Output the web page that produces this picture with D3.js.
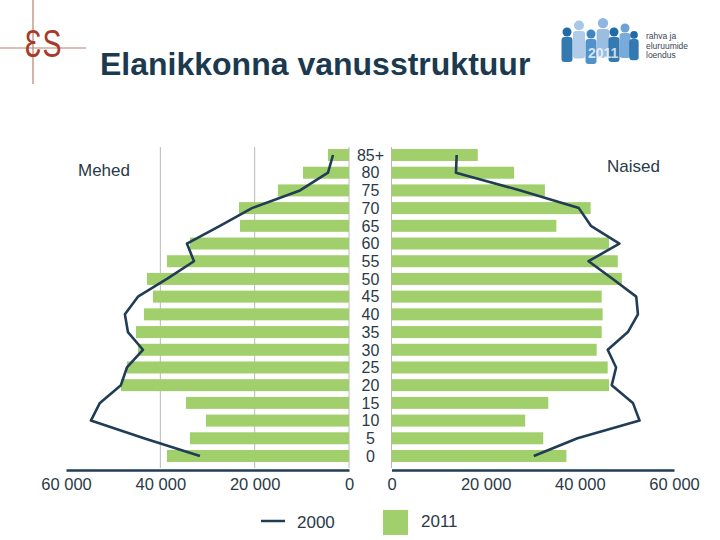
<!DOCTYPE html>
<html><head><meta charset="utf-8">
<script src="https://cdn.jsdelivr.net/npm/d3@7"></script>
<style>html,body{margin:0;padding:0;background:#fff;}svg{display:block;font-family:"Liberation Sans",Arial,sans-serif;}</style>
</head><body>
<svg id="c" width="720" height="540"></svg>
<script>
const ages = ["85+","80","75","70","65","60","55","50","45","40","35","30","25","20","15","10","5","0"];
const men2011 = [4450,9760,15060,23330,23120,33720,38600,42840,41570,43480,45170,44750,47080,48360,34570,30330,33720,38600];
const women2011 = [18330,26030,32580,42290,35010,46200,48060,48920,44640,44850,44640,43570,45920,46200,33300,28390,32230,37150];
const men2000 = [3390,4450,10390,20570,27360,34360,32870,38600,44750,47510,46870,43690,47080,48360,52810,54720,43480,31600];
const women2000 = [13840,13690,27380,39790,42350,48400,41860,47000,51980,52340,50200,45920,47700,46780,51270,52690,39500,30220];
const xTicks = [0,20000,40000,60000];
const title = "Elanikkonna vanusstruktuur";
const labelMen = "Mehed", labelWomen = "Naised";
const legendItems = ["2000","2011"];
const logoLines = ["rahva ja","eluruumide","loendus"];

const svg = d3.select("#c");
const green = "#a1cf6c", navy = "#213d55", txt = "#2a3a48";

const xL = d3.scaleLinear().domain([0,60000]).range([349,66]);
const xR = d3.scaleLinear().domain([0,60000]).range([391.5,674]);
const y = d3.scalePoint().domain(ages).range([155,456]);
const barH = 12;
const fmt = v => d3.format(",")(v).replace(/,/g," ");

// logo top-left
const lg = svg.append("g");
lg.append("line").attr("x1",33).attr("x2",33).attr("y1",0).attr("y2",84).attr("stroke","#b9806e").attr("stroke-width",1.2);
lg.append("line").attr("x1",0).attr("x2",86).attr("y1",48).attr("y2",48).attr("stroke","#b9806e").attr("stroke-width",1.2);
lg.append("text").attr("transform","translate(33,57) scale(-0.78,1)").attr("text-anchor","middle")
  .attr("font-size",38).attr("fill","#a83a28").text("3");
lg.append("text").attr("transform","translate(52,57) scale(0.75,1)").attr("text-anchor","middle")
  .attr("font-size",38).attr("fill","#a83a28").text("S");

// title
svg.append("text").attr("x",100).attr("y",75).attr("font-size",32).attr("font-weight","bold")
  .attr("fill","#1b3a4f").text(title);

// logo top-right (people figures)
const figs = [
  {x:567,y:38,c:"#1f6aa8",s:1.0},{x:579,y:32,c:"#a8c6e6",s:1.1},{x:591,y:40,c:"#3f86c4",s:1.0},
  {x:603,y:30,c:"#8fb6df",s:1.15},{x:614,y:38,c:"#1f6aa8",s:1.0},{x:625,y:34,c:"#6aa2d6",s:1.0},{x:634,y:40,c:"#1f6aa8",s:0.85}
];
const fg = svg.append("g");
figs.forEach(f=>{
  fg.append("circle").attr("cx",f.x).attr("cy",f.y-6*f.s).attr("r",4.5*f.s).attr("fill",f.c);
  fg.append("rect").attr("x",f.x-5.5*f.s).attr("y",f.y-1).attr("width",11*f.s).attr("height",25*f.s).attr("rx",3).attr("fill",f.c).attr("opacity",0.9);
});
fg.append("text").attr("x",588).attr("y",58).attr("font-size",14).attr("font-weight","bold").attr("fill","#fff").attr("opacity",0.75).text("2011");
const lt = svg.append("g").attr("font-size",8.5).attr("fill","#3a4656");
logoLines.forEach((t,i)=>lt.append("text").attr("x",646).attr("y",39+i*9.5).text(t));

// gridlines
const grid = svg.append("g").attr("stroke","#b8b8b8").attr("stroke-width",1);
[20000,40000,0].forEach(v=>grid.append("line").attr("x1",xL(v)).attr("x2",xL(v)).attr("y1",147).attr("y2",468));
grid.append("line").attr("x1",xR(0)).attr("x2",xR(0)).attr("y1",147).attr("y2",468);

// bars
svg.append("g").selectAll("rect").data(ages).join("rect")
  .attr("x",(d,i)=>xL(men2011[i])).attr("width",(d,i)=>xL(0)-xL(men2011[i]))
  .attr("y",d=>y(d)-barH/2).attr("height",barH).attr("fill",green);
svg.append("g").selectAll("rect").data(ages).join("rect")
  .attr("x",xR(0)).attr("width",(d,i)=>xR(women2011[i])-xR(0))
  .attr("y",d=>y(d)-barH/2).attr("height",barH).attr("fill",green);

// lines
const lineL = d3.line().x((d,i)=>xL(men2000[i])).y(d=>y(d));
const lineR = d3.line().x((d,i)=>xR(women2000[i])).y(d=>y(d));
svg.append("path").attr("d",lineL(ages)).attr("fill","none").attr("stroke",navy).attr("stroke-width",2.6).attr("stroke-linejoin","round");
svg.append("path").attr("d",lineR(ages)).attr("fill","none").attr("stroke",navy).attr("stroke-width",2.6).attr("stroke-linejoin","round");

// age labels
svg.append("g").selectAll("text").data(ages).join("text")
  .attr("x",370.5).attr("y",d=>y(d)).attr("dy","0.36em").attr("text-anchor","middle")
  .attr("font-size",16).attr("fill",txt).text(d=>d);

// axes
function styleAxis(g){
  g.select(".domain").attr("stroke",navy).attr("stroke-width",2.5);
  g.selectAll(".tick line").remove();
  g.selectAll(".tick text").attr("font-size",16.5).attr("fill",txt).attr("font-family","'Liberation Sans',Arial,sans-serif");
}
svg.append("g").attr("transform","translate(0,470)")
  .call(d3.axisBottom(xL).tickValues(xTicks).tickFormat(fmt).tickSize(0).tickPadding(8)).call(styleAxis);
svg.append("g").attr("transform","translate(0,470)")
  .call(d3.axisBottom(xR).tickValues(xTicks).tickFormat(fmt).tickSize(0).tickPadding(8)).call(styleAxis);

// side labels
svg.append("text").attr("x",78).attr("y",176).attr("font-size",17).attr("fill",txt).text(labelMen);
svg.append("text").attr("x",607).attr("y",172).attr("font-size",17).attr("fill",txt).text(labelWomen);

// legend
svg.append("line").attr("x1",261).attr("x2",285).attr("y1",521).attr("y2",521).attr("stroke",navy).attr("stroke-width",2.5);
svg.append("text").attr("x",297).attr("y",528).attr("font-size",17).attr("fill",txt).text(legendItems[0]);
svg.append("rect").attr("x",383).attr("y",510).attr("width",25).attr("height",25).attr("fill",green);
svg.append("text").attr("x",421).attr("y",527).attr("font-size",17).attr("fill",txt).text(legendItems[1]);
</script>
</body></html>
